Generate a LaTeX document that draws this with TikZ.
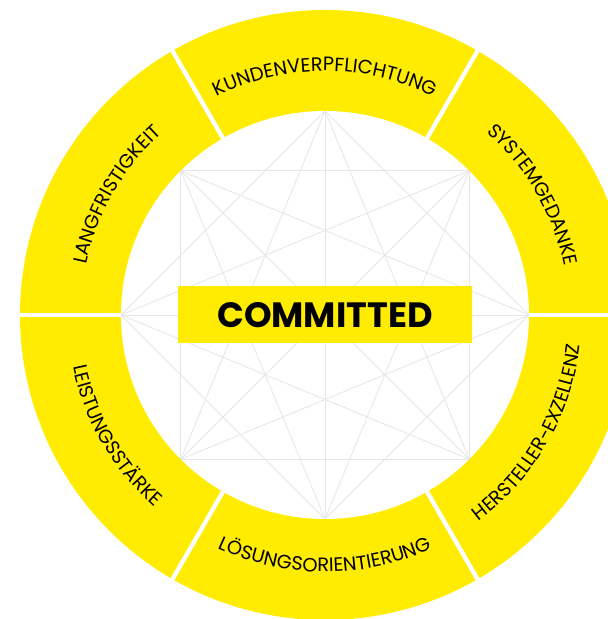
\documentclass[tikz,border=0pt]{standalone}
\usepackage{fontspec}
\setmainfont{Poppins}
\usetikzlibrary{decorations.text}

\definecolor{ringyellow}{HTML}{FFEC00}
\definecolor{webgrey}{HTML}{E6E6E6}
\newcommand{\labelfont}{\fontsize{16.5}{16.5}\selectfont}

\begin{document}
\begin{tikzpicture}
  [x=0.03cm,y=0.03cm,
   ring/.style={fill=ringyellow},
   divider/.style={draw=white,line width=1.3mm},
   web/.style={draw=webgrey,line width=0.7pt},
   corebox/.style={fill=ringyellow,minimum width=8.82cm,minimum height=1.71cm,
     inner sep=0pt,font=\fontsize{30}{30}\selectfont\bfseries},
   arclabel/.style={decorate,decoration={text along path,text align=center,
     text color=black,text={|\labelfont|#1}}}]
  \useasboundingbox (0,0) rectangle (607,619);
  \coordinate (C) at (325,304);

  % ring and its six parts
  \fill[ring] (C) circle (305);
  \fill[white] (C) circle (204);
  \foreach \a in {0,60,...,300}
    \draw[divider] (C) ++(\a:200) -- ++(\a:110);

  % points of the web
  \path (C) ++(0:204)   coordinate (e);
  \path (C) ++(45:204)  coordinate (ne);
  \path (C) ++(90:204)  coordinate (n);
  \path (C) ++(135:204) coordinate (nw);
  \path (C) ++(180:204) coordinate (w);
  \path (C) ++(225:204) coordinate (sw);
  \path (C) ++(270:204) coordinate (s);
  \path (C) ++(315:204) coordinate (se);

  \foreach \from/\to in {e/n,ne/nw,n/w,nw/sw,w/s,sw/se,s/e,se/ne,
                         e/nw,ne/w,n/sw,nw/s,w/se,sw/e,s/ne,se/n,
                         e/w,ne/sw,n/s,nw/se}
    \draw[web] (\from) -- (\to);

  \node[corebox] (core) at (C) {COMMITTED};

  % labels on the ring
  \path[arclabel=KUNDENVERPFLICHTUNG] (C) ++(120:244) arc[start angle=120,end angle=60,radius=244];
  \path[arclabel=SYSTEMGEDANKE] (C) ++(60:244) arc[start angle=60,end angle=0,radius=244];
  \path[arclabel=LANGFRISTIGKEIT] (C) ++(180:244) arc[start angle=180,end angle=120,radius=244];
  \path[arclabel=LEISTUNGSSTÄRKE] (C) ++(180:257) arc[start angle=180,end angle=240,radius=257];
  \path[arclabel=LÖSUNGSORIENTIERUNG] (C) ++(240:257) arc[start angle=240,end angle=300,radius=257];
  \path[arclabel=HERSTELLER-EXZELLENZ] (C) ++(300:257) arc[start angle=300,end angle=360,radius=257];
\end{tikzpicture}
\end{document}
